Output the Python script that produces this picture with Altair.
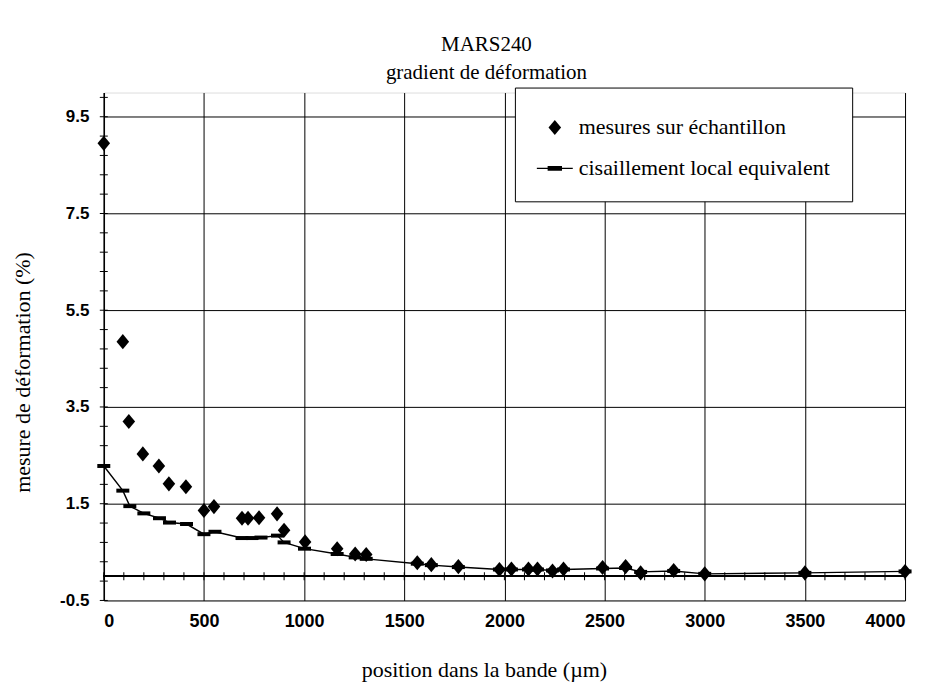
import altair as alt
import pandas as pd

title_lines = ["MARS240", "gradient de déformation"]
x_title = "position dans la bande (µm)"
y_title = "mesure de déformation  (%)"
series_names = ["mesures sur échantillon", "cisaillement local equivalent"]

# measurements (diamonds)
mes_x = [0, 95, 125, 195, 275, 325, 410, 500, 550, 690, 720, 775, 865, 900,
         1005, 1165, 1255, 1310, 1565, 1635, 1770, 1975, 2035, 2120, 2165,
         2240, 2295, 2490, 2605, 2680, 2845, 3000, 3500, 4000]
mes_y = [8.95, 4.85, 3.20, 2.53, 2.28, 1.91, 1.85, 1.36, 1.44, 1.20, 1.20,
         1.21, 1.29, 0.95, 0.71, 0.57, 0.46, 0.45, 0.28, 0.24, 0.20, 0.14,
         0.15, 0.15, 0.15, 0.11, 0.15, 0.18, 0.20, 0.07, 0.12, 0.05, 0.07, 0.10]

# equivalent local shear (line with dash markers)
cis_x = [0, 95, 130, 200, 278, 328, 413, 500, 555, 690, 740, 785, 867, 900,
         1002, 1165, 1255, 1310, 1565, 1635, 1770, 1975, 2035, 2120, 2165,
         2240, 2295, 2490, 2605, 2680, 2845, 3000, 3500, 4000]
cis_y = [2.28, 1.77, 1.45, 1.30, 1.20, 1.11, 1.08, 0.87, 0.92, 0.79, 0.79,
         0.80, 0.84, 0.70, 0.57, 0.46, 0.39, 0.36, 0.26, 0.23, 0.19, 0.14,
         0.14, 0.14, 0.14, 0.12, 0.14, 0.16, 0.17, 0.09, 0.11, 0.05, 0.07, 0.10]

x_ticks = [0, 500, 1000, 1500, 2000, 2500, 3000, 3500, 4000]
y_ticks = [-0.5, 1.5, 3.5, 5.5, 7.5, 9.5]
x_minor = list(range(0, 4001, 100))
y_minor = [round(-0.5 + 0.4 * k, 1) for k in range(27)]
x_domain = [0, 4000]
y_domain = [-0.5, 10]

SERIF = "Liberation Serif"
SANS = "Liberation Sans"

df_m = pd.DataFrame({"x": mes_x, "y": mes_y, "serie": series_names[0]})
df_c = pd.DataFrame({"x": cis_x, "y": cis_y})
df_xm = pd.DataFrame({"x": x_minor})
df_ym = pd.DataFrame({"y": y_minor})

xs = alt.Scale(domain=x_domain, nice=False, zero=False)
ys = alt.Scale(domain=y_domain, nice=False, zero=False)

x_axis = alt.Axis(values=x_ticks, format="d", grid=True, gridColor="black",
                  gridWidth=1, gridOpacity=1, domain=False, ticks=False,
                  labelPadding=12, labelFont=SANS, labelFontSize=18,
                  labelFontWeight="bold", labelColor="black", title=x_title,
                  titleFont=SERIF, titleFontSize=22, titleFontWeight="normal",
                  titleColor="black", titleY=59, titleX=381)
y_axis = alt.Axis(values=y_ticks,
                  labelExpr="replace(format(datum.value, '.1f'), '\u2212', '-')",
                  grid=True, gridColor="black", gridWidth=1,
                  gridOpacity=1, domain=True, domainColor="black", domainWidth=1.5,
                  ticks=False, labelPadding=15, labelFont=SANS, labelFontSize=17,
                  labelFontWeight="bold", labelColor="black", title=y_title,
                  titleFont=SERIF, titleFontSize=22, titleFontWeight="normal",
                  titleColor="black", titlePadding=25, titleY=280)


def X(field="x"):
    return alt.X(f"{field}:Q", scale=xs, axis=x_axis)


def Y(field="y"):
    return alt.Y(f"{field}:Q", scale=ys, axis=y_axis)


diamond_path = "M0,-0.42L0.35,0L0,0.42L-0.35,0Z"
legend_line_path = "M-1,-0.04H1V0.04H-1Z M-0.4,-0.13H0.4V0.13H-0.4Z"

# x axis line at y = 0 with cross ticks
xline = alt.Chart(df_m).mark_rule(color="black", strokeWidth=1.3).encode(
    y=alt.Y(datum=0, scale=ys, axis=y_axis))
xticks_layer = alt.Chart(df_xm).mark_tick(
    orient="vertical", size=8, thickness=1, color="black", opacity=1).encode(
    x=X(), y=alt.Y(datum=0, scale=ys, axis=y_axis))
yticks_layer = alt.Chart(df_ym).mark_tick(
    orient="horizontal", size=8, thickness=1, color="black", opacity=1).encode(
    x=alt.X(datum=0, scale=xs, axis=x_axis), y=Y())

line = alt.Chart(df_c).mark_line(color="black", strokeWidth=1.4).encode(
    x=X(), y=Y())
dashes = alt.Chart(df_c).mark_tick(
    orient="horizontal", size=13, thickness=4, color="black", opacity=1).encode(
    x=X(), y=Y())

points = alt.Chart(df_m).mark_point(
    filled=True, size=1296, opacity=1, color="black", strokeWidth=0).encode(
    x=X(), y=Y(),
    shape=alt.Shape(
        "serie:N",
        scale=alt.Scale(domain=series_names,
                        range=[diamond_path, legend_line_path]),
        legend=alt.Legend(
            title=None, orient="none", legendX=412, legendY=-5,
            labelFont=SERIF, labelFontSize=22, labelColor="black",
            labelLimit=400, labelOffset=6, symbolSize=1296,
            symbolFillColor="black", symbolStrokeWidth=0,
            padding=22, rowPadding=12, strokeColor="black",
            fillColor="white", cornerRadius=0)),
)

chart = alt.layer(xline, xticks_layer, yticks_layer, line, dashes, points).properties(
    width=803,
    height=509,
    title=alt.TitleParams(text=title_lines, font=SERIF, fontSize=21,
                          fontWeight="normal", color="black", lineHeight=28,
                          anchor="middle", dx=-18, offset=4),
    autosize=alt.AutoSizeParams(type="none"),
    padding={"left": 96, "top": 84, "right": 22, "bottom": 84},
).configure_view(strokeWidth=0).configure(background="white")

chart.save("out.html", embed_options={"renderer": "svg", "actions": False})
